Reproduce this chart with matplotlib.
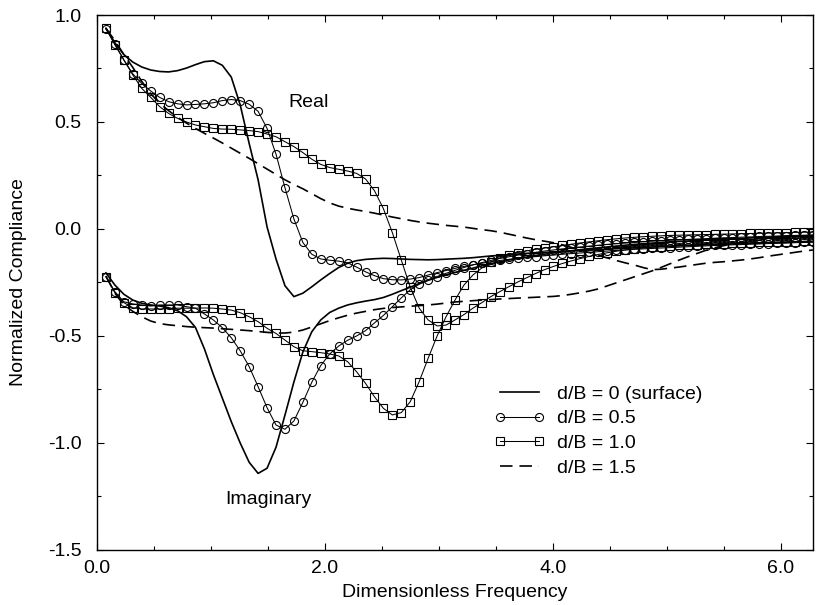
import numpy as np
import matplotlib
matplotlib.use("Agg")
import matplotlib.pyplot as plt
from matplotlib.ticker import MultipleLocator, FormatStrFormatter

plt.rcParams['font.family'] = ['Liberation Sans', 'DejaVu Sans']
plt.rcParams['lines.scale_dashes'] = False
plt.rcParams['axes.unicode_minus'] = False

# Dimensionless frequency grid (a0 = k*pi/40, k = 1..80)
freq = np.arange(1, 81) * np.pi / 40

# ---- Real parts ----
real_d00 = [0.938, 0.870, 0.815, 0.780, 0.757, 0.743, 0.736, 0.734, 0.740, 0.752,
            0.768, 0.782, 0.786, 0.765, 0.710, 0.580, 0.400, 0.230, 0.010, -0.140,
            -0.265, -0.316, -0.300, -0.270, -0.238, -0.208, -0.180, -0.160, -0.148, -0.142,
            -0.139, -0.137, -0.138, -0.140, -0.142, -0.143, -0.144, -0.143, -0.141, -0.139,
            -0.137, -0.134, -0.130, -0.126, -0.123, -0.120, -0.117, -0.114, -0.112, -0.110,
            -0.107, -0.105, -0.102, -0.100, -0.098, -0.096, -0.094, -0.092, -0.090, -0.088,
            -0.086, -0.084, -0.082, -0.081, -0.079, -0.077, -0.076, -0.074, -0.073, -0.071,
            -0.070, -0.069, -0.067, -0.066, -0.064, -0.063, -0.062, -0.060, -0.059, -0.058]

real_d05 = [0.935, 0.865, 0.790, 0.725, 0.680, 0.645, 0.615, 0.595, 0.585, 0.580,
            0.582, 0.585, 0.590, 0.600, 0.605, 0.600, 0.583, 0.550, 0.470, 0.350,
            0.193, 0.047, -0.063, -0.118, -0.140, -0.146, -0.150, -0.158, -0.178, -0.200,
            -0.218, -0.232, -0.237, -0.238, -0.234, -0.227, -0.215, -0.204, -0.194, -0.184,
            -0.175, -0.167, -0.160, -0.153, -0.147, -0.142, -0.137, -0.133, -0.129, -0.125,
            -0.122, -0.118, -0.115, -0.112, -0.109, -0.106, -0.103, -0.100, -0.098, -0.095,
            -0.093, -0.091, -0.089, -0.087, -0.085, -0.083, -0.081, -0.079, -0.077, -0.076,
            -0.074, -0.073, -0.071, -0.070, -0.068, -0.067, -0.066, -0.064, -0.063, -0.062]

real_d10 = [0.938, 0.860, 0.790, 0.720, 0.657, 0.615, 0.572, 0.540, 0.517, 0.500,
            0.486, 0.478, 0.470, 0.467, 0.466, 0.463, 0.460, 0.455, 0.444, 0.431,
            0.408, 0.385, 0.357, 0.326, 0.302, 0.287, 0.279, 0.271, 0.260, 0.234,
            0.179, 0.095, -0.017, -0.145, -0.272, -0.370, -0.425, -0.453, -0.449, -0.425,
            -0.400, -0.370, -0.344, -0.316, -0.293, -0.270, -0.248, -0.228, -0.208, -0.190,
            -0.175, -0.161, -0.149, -0.138, -0.128, -0.119, -0.111, -0.104, -0.098, -0.093,
            -0.089, -0.085, -0.082, -0.079, -0.077, -0.075, -0.073, -0.071, -0.069, -0.068,
            -0.066, -0.065, -0.064, -0.063, -0.062, -0.061, -0.060, -0.059, -0.058, -0.057]

real_d15 = [0.938, 0.880, 0.815, 0.755, 0.690, 0.632, 0.588, 0.553, 0.522, 0.495,
            0.470, 0.447, 0.425, 0.402, 0.378, 0.354, 0.330, 0.305, 0.280, 0.255,
            0.230, 0.208, 0.188, 0.165, 0.142, 0.122, 0.107, 0.097, 0.089, 0.082,
            0.074, 0.065, 0.056, 0.048, 0.040, 0.033, 0.027, 0.022, 0.017, 0.013,
            0.009, 0.003, -0.003, -0.008, -0.015, -0.024, -0.033, -0.042, -0.050, -0.057,
            -0.064, -0.074, -0.086, -0.098, -0.110, -0.123, -0.135, -0.147, -0.158, -0.168,
            -0.180, -0.190, -0.188, -0.183, -0.178, -0.172, -0.166, -0.160, -0.156, -0.153,
            -0.149, -0.145, -0.140, -0.134, -0.127, -0.121, -0.115, -0.109, -0.103, -0.098]

# ---- Imaginary parts ----
imag_d00 = [-0.205, -0.262, -0.305, -0.332, -0.347, -0.355, -0.360, -0.368, -0.382, -0.410,
            -0.460, -0.560, -0.680, -0.790, -0.900, -1.000, -1.090, -1.142, -1.118, -1.020,
            -0.870, -0.715, -0.575, -0.480, -0.425, -0.390, -0.370, -0.355, -0.345, -0.337,
            -0.330, -0.320, -0.305, -0.288, -0.272, -0.255, -0.240, -0.226, -0.214, -0.203,
            -0.193, -0.183, -0.172, -0.162, -0.153, -0.145, -0.138, -0.131, -0.124, -0.118,
            -0.112, -0.107, -0.102, -0.097, -0.092, -0.088, -0.084, -0.080, -0.076, -0.072,
            -0.069, -0.066, -0.063, -0.060, -0.058, -0.056, -0.054, -0.052, -0.050, -0.048,
            -0.046, -0.044, -0.042, -0.040, -0.038, -0.036, -0.035, -0.033, -0.032, -0.030]

imag_d05 = [-0.223, -0.293, -0.340, -0.350, -0.355, -0.360, -0.355, -0.355, -0.355, -0.363,
            -0.370, -0.397, -0.425, -0.461, -0.508, -0.569, -0.643, -0.737, -0.835, -0.916,
            -0.936, -0.897, -0.810, -0.716, -0.638, -0.584, -0.547, -0.520, -0.500, -0.475,
            -0.439, -0.404, -0.363, -0.322, -0.284, -0.258, -0.238, -0.222, -0.207, -0.193,
            -0.180, -0.168, -0.157, -0.147, -0.138, -0.130, -0.122, -0.115, -0.109, -0.103,
            -0.098, -0.093, -0.088, -0.084, -0.080, -0.076, -0.072, -0.069, -0.066, -0.063,
            -0.060, -0.057, -0.055, -0.053, -0.051, -0.049, -0.047, -0.045, -0.043, -0.041,
            -0.040, -0.038, -0.037, -0.035, -0.034, -0.033, -0.031, -0.030, -0.029, -0.028]

imag_d10 = [-0.223, -0.298, -0.344, -0.368, -0.374, -0.374, -0.374, -0.372, -0.370, -0.370,
            -0.370, -0.369, -0.370, -0.374, -0.379, -0.391, -0.410, -0.433, -0.464, -0.488,
            -0.519, -0.550, -0.569, -0.573, -0.578, -0.584, -0.593, -0.620, -0.667, -0.721,
            -0.784, -0.838, -0.869, -0.858, -0.807, -0.713, -0.604, -0.500, -0.410, -0.332,
            -0.262, -0.215, -0.182, -0.155, -0.135, -0.120, -0.110, -0.102, -0.095, -0.089,
            -0.083, -0.077, -0.071, -0.065, -0.060, -0.055, -0.050, -0.046, -0.042, -0.039,
            -0.036, -0.034, -0.032, -0.030, -0.029, -0.028, -0.027, -0.026, -0.025, -0.024,
            -0.023, -0.022, -0.021, -0.020, -0.019, -0.018, -0.017, -0.016, -0.015, -0.014]

imag_d15 = [-0.220, -0.300, -0.355, -0.385, -0.410, -0.430, -0.442, -0.448, -0.452, -0.456,
            -0.459, -0.461, -0.463, -0.466, -0.469, -0.472, -0.475, -0.479, -0.483, -0.486,
            -0.486, -0.482, -0.472, -0.458, -0.443, -0.428, -0.415, -0.403, -0.393, -0.385,
            -0.377, -0.371, -0.367, -0.364, -0.361, -0.358, -0.355, -0.351, -0.346, -0.341,
            -0.338, -0.335, -0.332, -0.330, -0.327, -0.325, -0.323, -0.321, -0.319, -0.317,
            -0.315, -0.311, -0.305, -0.298, -0.290, -0.280, -0.266, -0.252, -0.238, -0.224,
            -0.210, -0.196, -0.180, -0.163, -0.146, -0.130, -0.115, -0.100, -0.088, -0.078,
            -0.070, -0.063, -0.057, -0.052, -0.048, -0.044, -0.041, -0.038, -0.035, -0.032]

labels = ['d/B = 0 (surface)', 'd/B = 0.5', 'd/B = 1.0', 'd/B = 1.5']

FS = 14

fig = plt.figure(figsize=(8.17, 6.05), dpi=100)
ax = fig.add_axes([97/817, 55/605, 716/817, 535/605])

lw_solid = 1.2
lw_mark = 0.75
ms = 5.8
dash = (9, 5)

styles = [
    dict(color='black', lw=lw_solid, ls='-'),
    dict(color='black', lw=lw_mark, ls='-', marker='o', ms=ms, mfc='none', mec='black', mew=0.8),
    dict(color='black', lw=lw_mark, ls='-', marker='s', ms=ms - 0.3, mfc='none', mec='black', mew=0.8),
    dict(color='black', lw=lw_solid, ls=(0, dash)),
]

reals = [real_d00, real_d05, real_d10, real_d15]
imags = [imag_d00, imag_d05, imag_d10, imag_d15]

handles = []
for r, im, st, lab in zip(reals, imags, styles, labels):
    h, = ax.plot(freq, r, label=lab, **st)
    ax.plot(freq, im, **st)
    handles.append(h)

ax.set_xlim(0, 2 * np.pi)
ax.set_ylim(-1.5, 1.0)
ax.xaxis.set_major_locator(MultipleLocator(2.0))
ax.xaxis.set_minor_locator(MultipleLocator(0.5))
ax.yaxis.set_major_locator(MultipleLocator(0.5))
ax.yaxis.set_minor_locator(MultipleLocator(0.25))
ax.xaxis.set_major_formatter(FormatStrFormatter('%.1f'))
ax.yaxis.set_major_formatter(FormatStrFormatter('%.1f'))
ax.tick_params(which='both', direction='in', top=True, right=True, labelsize=FS)
ax.tick_params(which='major', length=5, width=0.8)
ax.tick_params(which='minor', length=3, width=0.8)
ax.tick_params(axis='x', pad=7)
ax.tick_params(axis='y', pad=11)
for s in ax.spines.values():
    s.set_linewidth(1.0)

ax.set_xlabel('Dimensionless Frequency', fontsize=FS, labelpad=5)
ax.set_ylabel('Normalized Compliance', fontsize=FS, labelpad=15)

ax.text(1.855, 0.589, 'Real', fontsize=FS, ha='center', va='center')
ax.text(1.50, -1.266, 'Imaginary', fontsize=FS, ha='center', va='center')

leg = ax.legend(handles=handles, loc='upper left', bbox_to_anchor=(0.555, 0.308),
                frameon=False, fontsize=FS, handlelength=2.6, handletextpad=0.6,
                labelspacing=0.36, borderpad=0, borderaxespad=0, numpoints=2)

fig.savefig('out.png', dpi=100)
